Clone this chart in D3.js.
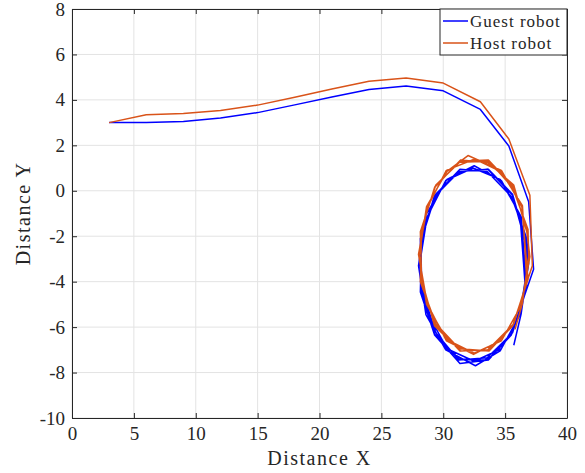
<!DOCTYPE html>
<html>
<head>
<meta charset="utf-8">
<script src="https://cdn.jsdelivr.net/npm/d3@7"></script>
<style>
  body { margin: 0; background: #fff; }
  text { font-family: "Liberation Serif", serif; fill: #262626; }
</style>
</head>
<body>
<div id="chart"></div>
<script>
// series names
const seriesNames = ["Guest robot", "Host robot"];

// approach path (before the loops), [x, y]
const guestApproach = [
  [3, 3], [6, 3.0], [9, 3.05], [12, 3.2], [15, 3.44], [18, 3.78], [21, 4.13],
  [24, 4.46], [27, 4.61], [30, 4.4], [33, 3.58], [35.3, 1.97], [36.9, -0.48], [37.3, -3.45]
];
const hostApproach = [
  [3, 3], [6, 3.35], [9, 3.4], [12, 3.53], [15, 3.77], [18, 4.12], [21, 4.48],
  [24, 4.82], [27, 4.96], [30, 4.74], [33, 3.92], [35.3, 2.28], [37.0, -0.2], [37.2, -3.3]
];

// loops around the circle, [x, y]
const guestLoops = [
  [36.7, -4.4], [35.5, -6.3], [33.6, -7.45], [31.3, -7.4], [29.3, -6.3], [28.2, -4.4],
  [28.15, -2.1], [29.3, -0.25], [31.3, 0.85], [33.6, 0.95], [35.6, -0.2], [36.6, -2.2],
  [36.8, -3.3], [36.2, -5.45], [34.6, -7.05], [32.6, -7.7], [30.2, -7.0], [28.6, -5.45],
  [28.0, -3.3], [28.6, -1.05], [30.3, 0.5], [32.5, 1.1], [34.7, 0.45], [36.3, -1.15],
  [36.75, -4.3], [35.6, -6.25], [33.55, -7.35], [31.25, -7.45], [29.4, -6.25], [28.25, -4.3],
  [28.2, -2.2], [29.4, -0.15], [31.35, 0.95], [33.55, 0.85], [35.5, -0.25], [36.75, -2.1],
  [36.9, -3.2], [36.3, -5.35], [34.7, -6.95], [32.5, -7.5], [30.3, -6.95], [28.7, -5.35],
  [28.1, -3.2], [28.7, -1.15], [30.2, 0.45], [32.4, 1.0], [34.6, 0.5], [36.2, -1.05],
  [36.65, -4.4], [35.5, -6.35], [33.65, -7.45], [31.35, -7.6], [29.3, -6.35], [28.15, -4.45],
  [28.25, -2.1], [29.3, -0.2], [31.25, 0.85], [33.65, 0.95], [35.6, -0.15], [36.65, -2.15],
  [36.85, -3.3], [36.3, -5.4], [35.7, -6.8]
];
const hostLoops = [
  [36.8, -3.95], [35.65, -5.9], [33.65, -7.0], [31.35, -7.05], [29.35, -5.9], [28.2, -3.95],
  [28.2, -1.75], [29.35, 0.2], [31.35, 1.3], [33.65, 1.35], [35.65, 0.2], [36.8, -1.75],
  [36.95, -2.85], [36.35, -5.0], [34.7, -6.6], [32.5, -7.15], [30.3, -6.55], [28.65, -5.0],
  [28.05, -2.85], [28.65, -0.7], [30.3, 0.85], [32.0, 1.55], [34.7, 0.9], [36.35, -0.7],
  [36.85, -3.9], [35.6, -5.95], [33.7, -7.05], [31.3, -6.95], [29.4, -5.85], [28.15, -4.0],
  [28.25, -1.7], [29.3, 0.15], [31.4, 1.35], [33.6, 1.25], [35.7, 0.25], [36.75, -1.8],
  [37.0, -2.9], [36.3, -5.05], [34.75, -6.55], [32.45, -7.2], [30.25, -6.6], [28.7, -4.95],
  [28.0, -2.8], [28.7, -0.75], [30.25, 0.9], [32.55, 1.4], [34.65, 0.85], [36.4, -0.65],
  [36.75, -4.0], [35.7, -5.85], [33.6, -7.0], [31.4, -7.05], [29.3, -5.95], [28.25, -3.9],
  [28.15, -1.8], [29.4, 0.25], [31.3, 1.25], [33.7, 1.3], [35.6, 0.15], [36.85, -1.7],
  [36.9, -2.9], [36.4, -4.95], [35.8, -6.1]
];

// axis ticks
const xTicks = [0, 5, 10, 15, 20, 25, 30, 35, 40];
const yTicks = [-10, -8, -6, -4, -2, 0, 2, 4, 6, 8];

const colors = ["#0000ff", "#d95319"];

const width = 585, height = 473;
const margin = { top: 9, right: 18, bottom: 55, left: 72 };
const w = width - margin.left - margin.right;
const h = height - margin.top - margin.bottom;

const svg = d3.select("#chart").append("svg")
  .attr("width", width)
  .attr("height", height);

const g = svg.append("g").attr("transform", `translate(${margin.left},${margin.top})`);

const x = d3.scaleLinear().domain([0, 40]).range([0, w]);
const y = d3.scaleLinear().domain([-10, 8]).range([h, 0]);

// grid
g.append("g").selectAll("line").data(xTicks).enter().append("line")
  .attr("x1", d => x(d)).attr("x2", d => x(d))
  .attr("y1", 0).attr("y2", h)
  .attr("stroke", "#e3e3e3").attr("stroke-width", 1);
g.append("g").selectAll("line").data(yTicks).enter().append("line")
  .attr("x1", 0).attr("x2", w)
  .attr("y1", d => y(d)).attr("y2", d => y(d))
  .attr("stroke", "#e3e3e3").attr("stroke-width", 1);

// lines
const line = d3.line().x(d => x(d[0])).y(d => y(d[1]));
const series = [guestApproach.concat(guestLoops), hostApproach.concat(hostLoops)];

g.selectAll(".trace").data(series).enter().append("path")
  .attr("class", "trace")
  .attr("d", line)
  .attr("fill", "none")
  .attr("stroke", (d, i) => colors[i])
  .attr("stroke-width", 1.5)
  .attr("stroke-linejoin", "round");

// axes, MATLAB box style with inward ticks
const tickLen = 5;
const fmt = d => String(d); // plain hyphen minus like the original
const xAxis = g.append("g").attr("transform", `translate(0,${h})`)
  .call(d3.axisBottom(x).tickValues(xTicks).tickFormat(fmt).tickSizeInner(-tickLen).tickSizeOuter(0).tickPadding(9));
const yAxis = g.append("g")
  .call(d3.axisLeft(y).tickValues(yTicks).tickFormat(fmt).tickSizeInner(-tickLen).tickSizeOuter(0).tickPadding(7));
const xTop = g.append("g")
  .call(d3.axisTop(x).tickValues(xTicks).tickSizeInner(-tickLen).tickSizeOuter(0).tickFormat(""));
const yRight = g.append("g").attr("transform", `translate(${w},0)`)
  .call(d3.axisRight(y).tickValues(yTicks).tickSizeInner(-tickLen).tickSizeOuter(0).tickFormat(""));

[xAxis, yAxis, xTop, yRight].forEach(a => {
  a.attr("font-family", "Liberation Serif, serif").attr("font-size", 19);
  a.select(".domain").attr("stroke", "#262626").attr("stroke-width", 1);
  a.selectAll(".tick line").attr("stroke", "#262626");
  a.selectAll(".tick text").attr("fill", "#262626");
});
xAxis.selectAll(".tick text").attr("dy", "0.71em");

// axis titles
svg.append("text")
  .attr("x", margin.left + w / 2)
  .attr("y", 465)
  .attr("text-anchor", "middle")
  .style("font-size", "20px")
  .style("letter-spacing", "1.5px")
  .text("Distance X");

svg.append("text")
  .attr("transform", `translate(30,${margin.top + h / 2}) rotate(-90)`)
  .attr("text-anchor", "middle")
  .style("font-size", "20px")
  .style("letter-spacing", "1.5px")
  .text("Distance Y");

// legend
const legend = svg.append("g").attr("transform", "translate(440,9)");
legend.append("rect")
  .attr("width", 127).attr("height", 46)
  .attr("fill", "#fff").attr("stroke", "#262626").attr("stroke-width", 1);

const items = legend.selectAll(".item").data(seriesNames).enter().append("g")
  .attr("transform", (d, i) => `translate(0,${12 + i * 22})`);
items.append("line")
  .attr("x1", 3).attr("x2", 28)
  .attr("stroke", (d, i) => colors[i])
  .attr("stroke-width", 1.5);
items.append("text")
  .attr("x", 30).attr("dy", "0.35em")
  .style("font-size", "17px")
  .style("letter-spacing", "1px")
  .text(d => d);
</script>
</body>
</html>
